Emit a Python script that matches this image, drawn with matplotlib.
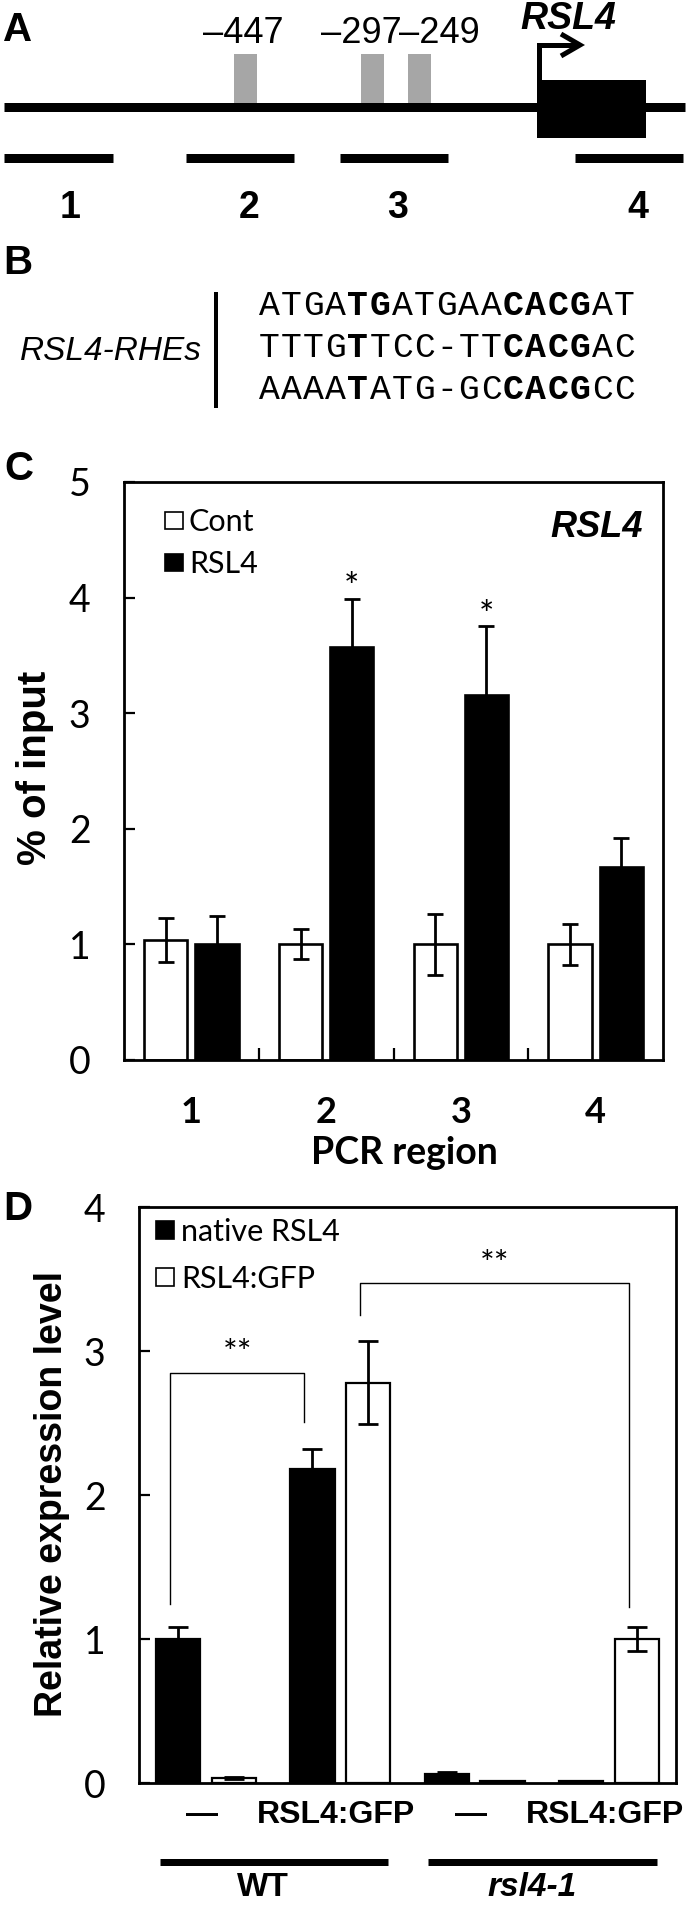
import matplotlib
matplotlib.use("Agg")
import matplotlib.pyplot as plt
from matplotlib.patches import Rectangle
from matplotlib.transforms import offset_copy
import numpy as np

W, H, DPI = 688, 1905, 100

# ---------------- data ----------------
# Panel A
site_positions = [-447, -297, -249]
gene_name = "RSL4"
pcr_regions = ["1", "2", "3", "4"]
# Panel B
rhe_label = "RSL4-RHEs"
rhe_seqs = ["ATGATGATGAACACGAT", "TTTGTTCC-TTCACGAC", "AAAATATG-GCCACGCC"]
rhe_bold = [[4, 5, 11, 12, 13, 14], [4, 11, 12, 13, 14], [4, 11, 12, 13, 14]]
# Panel C
c_series = ["Cont", "RSL4"]
cont_mean = [1.04, 1.00, 1.00, 1.00]
cont_err = [0.19, 0.13, 0.265, 0.175]
rsl4_mean = [1.00, 3.57, 3.16, 1.67]
rsl4_err = [0.25, 0.42, 0.59, 0.25]
c_signif = ["", "*", "*", ""]
c_yticks = [0, 1, 2, 3, 4, 5]
# Panel D
d_series = ["native RSL4", "RSL4:GFP"]
d_transgene = ["\u2014", "RSL4:GFP", "\u2014", "RSL4:GFP"]
d_genotypes = ["WT", "rsl4-1"]
native_mean = [1.00, 2.18, 0.065, 0.015]
native_err = [0.08, 0.14, 0.012, 0.0]
gfp_mean = [0.035, 2.78, 0.015, 1.00]
gfp_err = [0.005, 0.29, 0.0, 0.08]
d_yticks = [0, 1, 2, 3, 4]
# brackets: (group_a, series_a, group_b, series_b, y_left_end, y_top, y_right_end, label)
d_brackets = [(0, 0, 1, 0, 1.24, 2.85, 2.51, "**"),
              (1, 1, 3, 1, 3.25, 3.47, 1.22, "**")]

# ---------------- style ----------------
SANS = "Liberation Sans"
CAL = "Lato"
MONO = "Liberation Mono"
plt.rcParams["font.family"] = [CAL, "DejaVu Sans"]
PX = 72.0 / DPI  # points per pixel

fig = plt.figure(figsize=(W / DPI, H / DPI), dpi=DPI)
fig.patch.set_facecolor("white")

axC = fig.add_axes([124 / W, 1 - 1060 / H, (663 - 124) / W, (1060 - 482) / H])
axD = fig.add_axes([139 / W, 1 - 1783 / H, (676 - 139) / W, (1783 - 1207) / H])
ax0 = fig.add_axes([0, 0, 1, 1], zorder=10)
ax0.set_xlim(0, W)
ax0.set_ylim(H, 0)
ax0.axis("off")
ax0.patch.set_visible(False)


def ctext(ax, x, y, s, size, capr=0.716, **kw):
    tr = offset_copy(ax.transData, fig=fig, x=0, y=-capr * size / 2, units="points")
    return ax.text(x, y, s, transform=tr, fontsize=size, va="baseline", **kw)


# ---------------- Panel A ----------------
ctext(ax0, 18, 27, "A", 29, family=SANS, weight="bold", ha="center")
line_lw = 9 * PX
ax0.plot([3.5, 685], [107, 107], color="black", lw=line_lw, solid_capstyle="butt", zorder=3)
site_x = [245.5, 372, 419]
site_label_x = [243, 361, 439]
for p, xc, xl in zip(site_positions, site_x, site_label_x):
    ax0.add_patch(Rectangle((xc - 11.5, 54), 23, 50, facecolor="#a6a6a6", lw=0, zorder=2))
    ctext(ax0, xl, 30, "\u2013%d" % abs(p), 26, family=SANS, ha="center")
ax0.add_patch(Rectangle((537, 80), 109, 58, facecolor="black", lw=0, zorder=4))
ax0.plot([539, 539, 578], [82, 45, 45], color="black", lw=5 * PX,
         solid_joinstyle="miter", solid_capstyle="butt", zorder=4)
ax0.plot([561, 580, 561], [34, 45, 56], color="black", lw=5 * PX,
         solid_joinstyle="miter", solid_capstyle="butt", zorder=4)
ctext(ax0, 568, 16, gene_name, 27, family=SANS, weight="bold", style="italic", ha="center")
frag_x = [(4, 113), (186, 294), (340, 448), (575, 683)]
frag_label_x = [70, 249, 398, 638]
for (x1, x2), xl, r in zip(frag_x, frag_label_x, pcr_regions):
    ax0.plot([x1, x2], [158, 158], color="black", lw=line_lw, solid_capstyle="butt")
    ctext(ax0, xl, 205, r, 27, family=SANS, weight="bold", ha="center")

# ---------------- Panel B ----------------
ctext(ax0, 18, 260, "B", 29, family=SANS, weight="bold", ha="center")
ax0.plot([216, 216], [292, 408], color="black", lw=4 * PX, solid_capstyle="butt")
ctext(ax0, 202, 348, rhe_label, 24, family=SANS, style="italic", ha="right")
seq_rows_y = [304, 346, 388]
seq_x0, pitch = 258, 22.2
for seq, bold, yr in zip(rhe_seqs, rhe_bold, seq_rows_y):
    for i, ch in enumerate(seq):
        ctext(ax0, seq_x0 + pitch * (i + 0.5), yr, ch, 25, capr=0.66, family=MONO,
              weight="bold" if i in bold else "normal", ha="center")

# ---------------- Panel C ----------------
xc = np.arange(1, len(pcr_regions) + 1)
wC, offC = 0.32, 0.19
ekw = dict(ecolor="black", elinewidth=2.0, capsize=6, capthick=2.0)
axC.bar(xc - offC, cont_mean, wC, yerr=cont_err, color="white", edgecolor="black",
        linewidth=1.9, error_kw=ekw, zorder=2)
axC.bar(xc + offC, rsl4_mean, wC, yerr=rsl4_err, color="black", edgecolor="black",
        linewidth=1.9, error_kw=ekw, zorder=2)
axC.set_xlim(0.5, 4.5)
axC.set_ylim(0, 5)
axC.set_yticks(c_yticks)
axC.set_xticks(xc)
axC.set_xticklabels([])
axC.set_xticks(xc[:-1] + 0.5, minor=True)
axC.tick_params(axis="y", direction="in", length=8, width=1.6, labelsize=27, pad=24)
axC.tick_params(axis="x", which="major", length=0)
axC.tick_params(axis="x", which="minor", direction="in", length=9, width=1.6)
for s in axC.spines.values():
    s.set_linewidth(2)
for xi, r in zip(xc, pcr_regions):
    ctext(axC, xi, -0.433, r, 26, family=CAL, weight="bold", ha="center")
for xi, m, e, sg in zip(xc, rsl4_mean, rsl4_err, c_signif):
    if sg:
        tr = offset_copy(axC.transData, fig=fig, x=0, y=-0.55 * 26, units="points")
        axC.text(xi + offC, m + e + 0.17, sg, transform=tr, fontsize=26, ha="center",
                 va="baseline", family=CAL)
ax0.text(35, 768, "% of input", rotation=90, ha="center", va="center", fontsize=29,
         family=SANS, weight="bold")
ctext(ax0, 404, 1151, "PCR region", 27, family=CAL, weight="bold", ha="center")
ctext(ax0, 19, 466, "C", 29, family=SANS, weight="bold", ha="center")
# legend C
for name, fc, yc in zip(c_series, ["white", "black"], [520, 562]):
    ax0.add_patch(Rectangle((165, yc - 8.5), 18, 17, facecolor=fc, edgecolor="black", lw=1.2))
    ctext(ax0, 189, yc, name, 22, family=CAL, ha="left")
ctext(ax0, 643, 524, gene_name, 26, family=SANS, weight="bold", style="italic", ha="right")

# ---------------- Panel D ----------------
xd = np.arange(1, len(d_transgene) + 1)
wD, offD = 0.33, 0.208
ekwD = dict(ecolor="black", elinewidth=2.0, capsize=7.5, capthick=2.0)
axD.bar(xd - offD, native_mean, wD, yerr=native_err, color="black", edgecolor="black",
        linewidth=1.6, error_kw=ekwD, zorder=2)
axD.bar(xd + offD, gfp_mean, wD, yerr=gfp_err, color="white", edgecolor="black",
        linewidth=1.6, error_kw=ekwD, zorder=2)
axD.set_xlim(0.5, 4.5)
axD.set_ylim(0, 4)
axD.set_yticks(d_yticks)
axD.set_xticks([])
axD.tick_params(axis="y", direction="in", length=8, width=1.6, labelsize=27, pad=24)
for s in axD.spines.values():
    s.set_linewidth(2)
series_off = [-offD, offD]
for ga, sa, gb, sb, yl, yt, yr, lab in d_brackets:
    x1 = xd[ga] + series_off[sa] - 0.06
    x2 = xd[gb] + series_off[sb] - 0.06
    axD.plot([x1, x1, x2, x2], [yl, yt, yt, yr], color="black", lw=1.0, clip_on=False)
    axD.text((x1 + x2) / 2, yt + 0.06, lab, ha="center", va="baseline", fontsize=25,
             family=CAL)
for xi, t in zip(xd, d_transgene):
    ctext(axD, xi - 0.03, -0.2, t, 23, family=SANS, weight="bold", ha="center")
for k, g in enumerate(d_genotypes):
    xa, xb = xd[2 * k] - 0.345, xd[2 * k + 1] + 0.355
    axD.plot([xa, xb], [-0.55, -0.55], color="black", lw=7 * PX, solid_capstyle="butt",
             clip_on=False)
    ctext(axD, (xa + xb) / 2 - 0.08, -0.705, g, 24, family=SANS, weight="bold",
          style="italic" if k == 1 else "normal", ha="center")
ax0.text(52, 1494, "Relative expression level", rotation=90, ha="center", va="center",
         fontsize=27, family=SANS, weight="bold")
ctext(ax0, 18, 1206, "D", 29, family=SANS, weight="bold", ha="center")
for name, fc, yc in zip(d_series, ["black", "white"], [1230, 1277]):
    ax0.add_patch(Rectangle((156, yc - 9), 18, 18, facecolor=fc, edgecolor="black", lw=1.2))
    ctext(ax0, 181, yc, name, 22, family=CAL, ha="left")

fig.savefig("out.png", dpi=DPI, facecolor="white")
